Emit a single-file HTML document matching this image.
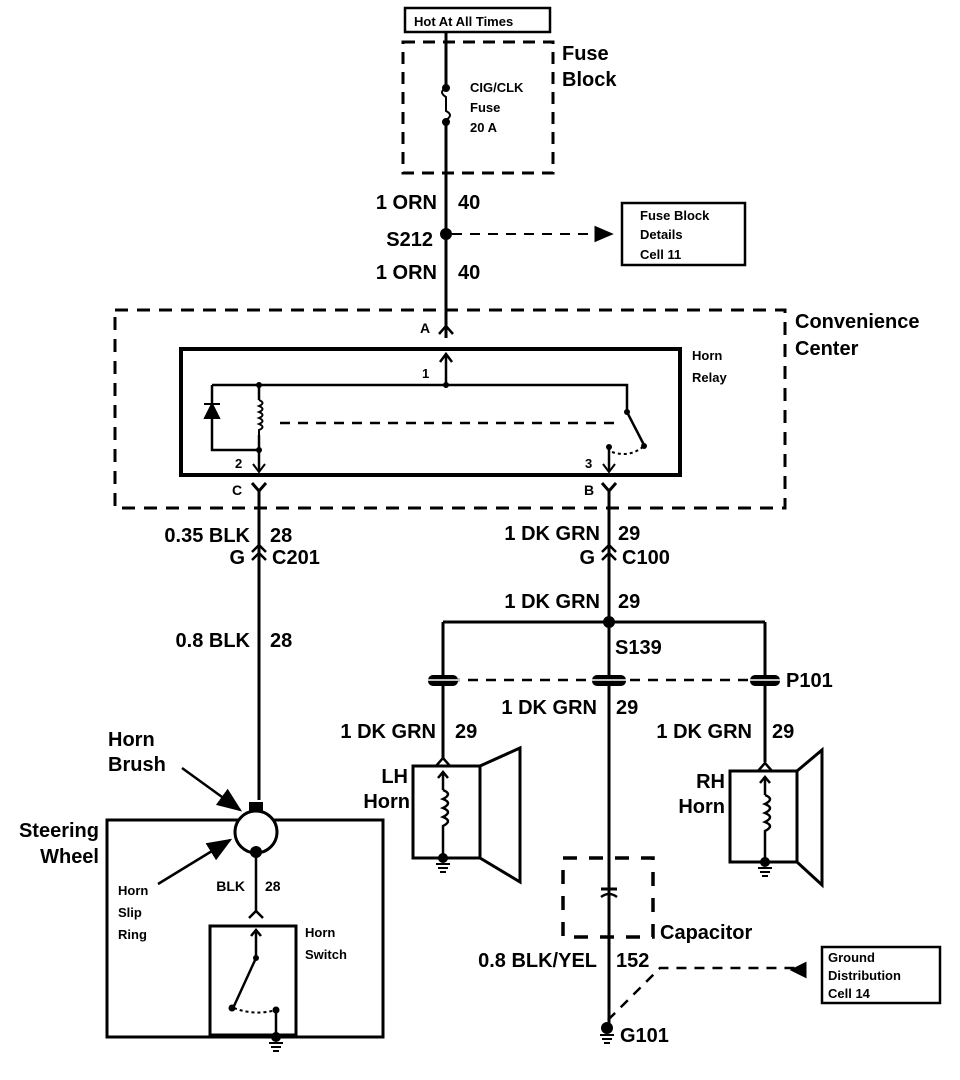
<!DOCTYPE html>
<html><head><style>body{margin:0;background:#fff}svg{display:block}text{font-family:"Liberation Sans",sans-serif;font-weight:bold;fill:#000}</style></head><body>
<svg width="960" height="1080" viewBox="0 0 960 1080" xmlns="http://www.w3.org/2000/svg">
<defs><marker id="ah" markerWidth="10" markerHeight="10" refX="9" refY="5" orient="auto"><path d="M0,1 L10,5 L0,9z" fill="#000"/></marker></defs>
<g stroke="#000" fill="none" stroke-width="3">
<rect x="405" y="8" width="145" height="24" stroke-width="2.5"/>
<rect x="403" y="42" width="150" height="131" stroke-dasharray="12,8"/>
<path d="M446 32 V88 M446 122 V338"/>
<path d="M446 88 q-8 4 0 9 v14 q8 4 0 9" stroke-width="2"/>
<circle cx="446" cy="88" r="2.5" fill="#000"/><circle cx="446" cy="122" r="2.5" fill="#000"/>
<circle cx="446" cy="234" r="6" fill="#000" stroke="none"/>
<path d="M452 234 H600" stroke-dasharray="10,8" stroke-width="2"/>
<path d="M596 228 L610 234 L596 240z" fill="#000"/>
<rect x="622" y="203" width="123" height="62" stroke-width="2.5"/>
<path d="M439 334 L446 326 L453 334" stroke-width="2.5"/>
<rect x="115" y="310" width="670" height="198" stroke-dasharray="13,9"/>
<rect x="181" y="349" width="499" height="126" stroke-width="4"/>
<path d="M446 385 V354 M440 362 L446 354 L452 362" stroke-width="2.5"/>
<path d="M212 385 H627 V412 M212 385 V450 H259 M259 385 V400 M259 435 V470" stroke-width="2.5"/>
<path d="M259 400 q7 3 0 6 q7 3 0 6 q7 3 0 6 q7 3 0 6 q7 3 0 6 v5" stroke-width="2"/>
<path d="M204 404 H220 M212 404 L205 418 H219z" fill="#000" stroke-width="2"/>
<path d="M280 423 H618" stroke-dasharray="10,8" stroke-width="2.5"/>
<path d="M627 412 L644 445" stroke-width="2.5"/>
<path d="M612 452 q18 6 32 -6" stroke-dasharray="3,3" stroke-width="2"/>
<path d="M609 447 V470" stroke-width="2.5"/>
<path d="M253 464 L259 472 L265 464 M603 464 L609 472 L615 464" stroke-width="2"/>
<g fill="#000" stroke="none"><circle cx="446" cy="385" r="3"/><circle cx="259" cy="385" r="3"/><circle cx="259" cy="450" r="3"/><circle cx="627" cy="412" r="3"/><circle cx="609" cy="447" r="3"/><circle cx="644" cy="446" r="3"/></g>
<path d="M252 483 L259 491 L266 483 M259 491 V800 M602 483 L609 491 L616 483 M609 491 V1025"/>
<path d="M252 552 L259 545 L266 552 M252 560 L259 553 L266 560 M602 552 L609 545 L616 552 M602 560 L609 553 L616 560" stroke-width="2.5"/>
<circle cx="609" cy="622" r="6" fill="#000" stroke="none"/>
<path d="M443 622 H765 M443 622 V758 M765 622 V762"/>
<path d="M450 680 H760" stroke-dasharray="10,8" stroke-width="2.5"/>
<g fill="#000" stroke="none"><rect x="428" y="675" width="30" height="11" rx="5"/><rect x="592" y="675" width="34" height="11" rx="5"/><rect x="750" y="675" width="30" height="11" rx="5"/></g>
<path d="M428 680 H460 M592 680 H626 M750 680 H780" stroke="#fff" stroke-width="1.5"/>
<!-- LH horn -->
<path d="M436 766 L443 758 L450 766" stroke-width="2.5"/>
<rect x="413" y="766" width="67" height="92"/>
<path d="M480 766 L520 748 V882 L480 858"/>
<path d="M443 772 V790 M438 778 L443 772 L448 778" stroke-width="2.5"/>
<path d="M443 790 q10 4 0 9 q10 4 0 9 q10 4 0 9 q10 4 0 9 V858" stroke-width="2.5"/>
<circle cx="443" cy="858" r="5" fill="#000" stroke="none"/>
<path d="M436 864 H450 M438 868 H448 M440 872 H446" stroke-width="2"/>
<!-- RH horn -->
<path d="M758 771 L765 763 L772 771" stroke-width="2.5"/>
<rect x="730" y="771" width="67" height="91"/>
<path d="M797 771 L822 750 V885 L797 862"/>
<path d="M765 777 V795 M760 783 L765 777 L770 783" stroke-width="2.5"/>
<path d="M765 795 q10 4 0 9 q10 4 0 9 q10 4 0 9 q10 4 0 9 V862" stroke-width="2.5"/>
<circle cx="765" cy="862" r="5" fill="#000" stroke="none"/>
<path d="M758 868 H772 M760 872 H770 M762 876 H768" stroke-width="2"/>
<!-- capacitor -->
<rect x="563" y="858" width="90" height="79" stroke-dasharray="14,12" stroke-width="3.5"/>
<path d="M601 889 H617" stroke-width="3"/>
<path d="M601 897 q8 -6 16 0" stroke-width="2.5"/>
<circle cx="607" cy="1028" r="6" fill="#000" stroke="none"/>
<path d="M600 1035 H614 M602 1039 H612 M604 1043 H610" stroke-width="2"/>
<path d="M608 1020 L660 968 H805" stroke-dasharray="10,8" stroke-width="2.5"/>
<path d="M805 964 L793 970 L805 976z" fill="#000"/>
<rect x="822" y="947" width="118" height="56" stroke-width="2.5"/>
<!-- steering -->
<rect x="107" y="820" width="276" height="217"/>
<rect x="249" y="802" width="14" height="16" fill="#000" stroke="none"/>
<circle cx="256" cy="832" r="21" fill="#fff"/>
<circle cx="256" cy="852" r="6" fill="#000" stroke="none"/>
<path d="M256 852 V912 M249 918 L256 911 L263 918" stroke-width="2.5"/>
<rect x="210" y="926" width="86" height="109"/>
<path d="M256 930 V958 L234 1006 M251 936 L256 930 L261 936" stroke-width="2.5"/>
<path d="M234 1008 q20 8 42 2" stroke-dasharray="3,3" stroke-width="2"/>
<path d="M276 1010 V1035" stroke-width="2.5"/>
<g fill="#000" stroke="none"><circle cx="256" cy="958" r="3"/><circle cx="232" cy="1008" r="3.5"/><circle cx="276" cy="1010" r="3.5"/><circle cx="276" cy="1037" r="5"/></g>
<path d="M269 1043 H283 M271 1047 H281 M273 1051 H279" stroke-width="2"/>
<path d="M182 768 L240 810" stroke-width="2.5" marker-end="url(#ah)"/>
<path d="M158 884 L230 840" stroke-width="2.5" marker-end="url(#ah)"/>
</g>
<g font-size="13"><text x="414" y="26">Hot At All Times</text>
<text x="470" y="92">CIG/CLK</text><text x="470" y="112">Fuse</text><text x="470" y="132">20 A</text>
<text x="640" y="220">Fuse Block</text><text x="640" y="239">Details</text><text x="640" y="259">Cell 11</text>
<text x="692" y="360">Horn</text><text x="692" y="382">Relay</text>
<text x="422" y="378">1</text><text x="235" y="468">2</text><text x="585" y="468">3</text>
<text x="828" y="962">Ground</text><text x="828" y="980">Distribution</text><text x="828" y="998">Cell 14</text>
<text x="118" y="895">Horn</text><text x="118" y="917">Slip</text><text x="118" y="939">Ring</text>
<text x="305" y="937">Horn</text><text x="305" y="959">Switch</text></g>
<g font-size="14"><text x="420" y="333">A</text><text x="232" y="495">C</text><text x="584" y="495">B</text>
<text x="245" y="891" text-anchor="end">BLK</text><text x="265" y="891">28</text></g>
<g font-size="20">
<text x="562" y="60">Fuse</text><text x="562" y="86">Block</text>
<text x="437" y="209" text-anchor="end">1 ORN</text><text x="458" y="209">40</text>
<text x="433" y="246" text-anchor="end">S212</text>
<text x="437" y="279" text-anchor="end">1 ORN</text><text x="458" y="279">40</text>
<text x="795" y="328">Convenience</text><text x="795" y="355">Center</text>
<text x="250" y="542" text-anchor="end">0.35 BLK</text><text x="270" y="542">28</text>
<text x="245" y="564" text-anchor="end">G</text><text x="272" y="564">C201</text>
<text x="250" y="647" text-anchor="end">0.8 BLK</text><text x="270" y="647">28</text>
<text x="600" y="540" text-anchor="end">1 DK GRN</text><text x="618" y="540">29</text>
<text x="595" y="564" text-anchor="end">G</text><text x="622" y="564">C100</text>
<text x="600" y="608" text-anchor="end">1 DK GRN</text><text x="618" y="608">29</text>
<text x="615" y="654">S139</text><text x="786" y="687">P101</text>
<text x="597" y="714" text-anchor="end">1 DK GRN</text><text x="616" y="714">29</text>
<text x="436" y="738" text-anchor="end">1 DK GRN</text><text x="455" y="738">29</text>
<text x="752" y="738" text-anchor="end">1 DK GRN</text><text x="772" y="738">29</text>
<text x="408" y="783" text-anchor="end">LH</text><text x="410" y="808" text-anchor="end">Horn</text>
<text x="725" y="788" text-anchor="end">RH</text><text x="725" y="813" text-anchor="end">Horn</text>
<text x="660" y="939">Capacitor</text>
<text x="597" y="967" text-anchor="end">0.8 BLK/YEL</text><text x="616" y="967">152</text>
<text x="620" y="1042">G101</text>
<text x="108" y="746">Horn</text><text x="108" y="771">Brush</text>
<text x="99" y="837" text-anchor="end">Steering</text><text x="99" y="863" text-anchor="end">Wheel</text>
</g>
</svg>
</body></html>
